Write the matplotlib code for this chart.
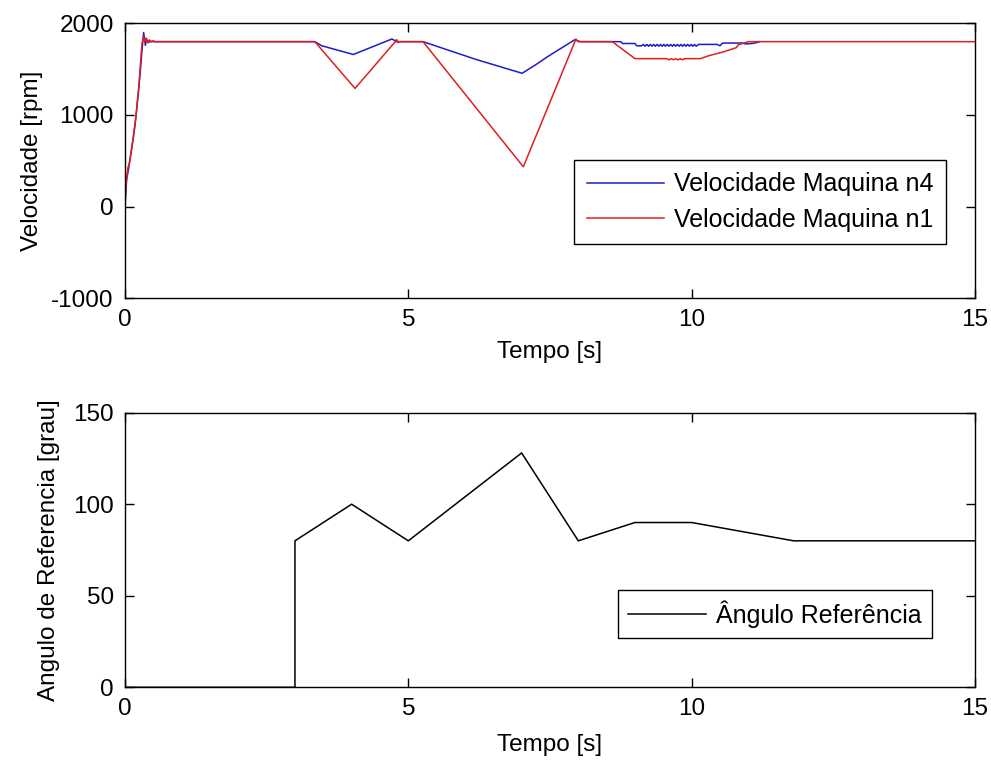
import matplotlib
matplotlib.use("Agg")
import matplotlib.pyplot as plt

plt.rcParams['font.family'] = ['Liberation Sans', 'DejaVu Sans']
plt.rcParams['axes.unicode_minus'] = False

# ---- data: top plot (speed, rpm) ----
t_n1 = [0, 0.02, 0.05, 0.08, 0.12, 0.16, 0.20, 0.24, 0.27, 0.30, 0.33, 0.35, 0.37, 0.40,
        0.43, 0.46, 0.50, 0.54, 0.58,
        3.35, 4.06, 4.77, 4.79, 4.82,
        5.26, 7.03, 7.94, 7.96, 7.99,
        8.60, 9.00, 9.56, 9.60, 9.64, 9.68, 9.72, 9.76, 9.80, 9.84, 9.88, 9.92,
        10.15, 10.32, 10.56, 10.79, 10.82, 11.00, 15.0]
v_n1 = [0, 250, 420, 480, 640, 820, 1020, 1270, 1530, 1780, 1860, 1800, 1840, 1790,
        1820, 1795, 1810, 1797, 1800,
        1800, 1290, 1800, 1822, 1800,
        1800, 435, 1800, 1829, 1800,
        1800, 1615, 1615, 1602, 1615, 1602, 1615, 1602, 1615, 1602, 1615, 1615,
        1615, 1650, 1688, 1735, 1764, 1800, 1800]

t_n4 = [0, 0.03, 0.06, 0.10, 0.14, 0.18, 0.22, 0.26, 0.30, 0.33, 0.36, 0.38, 0.41,
        0.45, 0.50,
        3.35, 3.47, 4.03, 4.71, 4.82, 4.85,
        5.26, 5.38, 6.20, 7.01, 7.27, 7.44, 7.94, 8.03,
        8.60, 8.75, 8.78, 9.00, 9.03, 9.12,
        9.15, 9.18, 9.21, 9.24, 9.27, 9.30, 9.33, 9.36, 9.39, 9.42, 9.45, 9.48,
        9.51, 9.54, 9.57, 9.60, 9.63, 9.66, 9.69, 9.72, 9.75, 9.78, 9.81, 9.84,
        9.87, 9.90, 9.93, 9.96, 9.99, 10.02, 10.05, 10.08, 10.12,
        10.45, 10.50, 10.55, 10.90, 10.95, 11.10, 11.20]
v_n4 = [0, 300, 400, 560, 720, 900, 1150, 1400, 1700, 1900, 1760, 1830, 1790,
        1805, 1800,
        1800, 1756, 1660, 1829, 1793, 1800,
        1800, 1775, 1605, 1455, 1557, 1629, 1822, 1800,
        1800, 1800, 1780, 1780, 1755, 1755,
        1770, 1750, 1770, 1750, 1770, 1750, 1770, 1750, 1770, 1750, 1770, 1750,
        1770, 1750, 1770, 1750, 1770, 1750, 1770, 1750, 1770, 1750, 1770, 1750,
        1770, 1750, 1770, 1750, 1770, 1750, 1770, 1750, 1770,
        1770, 1755, 1785, 1785, 1775, 1782, 1800]

# ---- data: bottom plot (reference angle, degrees) ----
t_ang = [0, 3, 3, 4, 5, 7, 8, 9, 10, 11.8, 15]
v_ang = [0, 0, 80, 100, 80, 128, 80, 90, 90, 80, 80]

labels_top = ['Velocidade Maquina n4', 'Velocidade Maquina n1']
label_bot = 'Ângulo Referência'

FS = 17.5
LFS = 18

fig = plt.figure(figsize=(9.91, 7.6), dpi=100)
ax1 = fig.add_axes([0.1261, 0.6075, 0.8577, 0.3618])
ax2 = fig.add_axes([0.1261, 0.0957, 0.8577, 0.3613])

ax1.plot(t_n4, v_n4, color='#1c1cc8', lw=1.1, label=labels_top[0])
ax1.plot(t_n1, v_n1, color='#e01e1e', lw=1.1, label=labels_top[1])
ax1.set_xlim(0, 15)
ax1.set_ylim(-1000, 2000)
ax1.set_xticks([0, 5, 10, 15])
ax1.set_yticks([-1000, 0, 1000, 2000])
ax1.set_xlabel('Tempo [s]', fontsize=FS)
ax1.set_ylabel('Velocidade [rpm]', fontsize=FS)
leg1 = ax1.legend(loc='upper right', bbox_to_anchor=(0.966, 0.503), borderaxespad=0,
                  fontsize=LFS, handlelength=3.1, handletextpad=0.4, labelspacing=0.45,
                  borderpad=0.5, fancybox=False, framealpha=1, edgecolor='black')
leg1.get_frame().set_linewidth(1.0)

ax2.plot(t_ang, v_ang, color='black', lw=1.1, label=label_bot)
ax2.set_xlim(0, 15)
ax2.set_ylim(0, 150)
ax2.set_xticks([0, 5, 10, 15])
ax2.set_yticks([0, 50, 100, 150])
ax2.set_xlabel('Tempo [s]', fontsize=FS)
ax2.set_ylabel('Angulo de Referencia [grau]', fontsize=FS)
leg2 = ax2.legend(loc='upper right', bbox_to_anchor=(0.949, 0.354), borderaxespad=0,
                  fontsize=LFS, handlelength=3.1, handletextpad=0.4,
                  borderpad=0.4, fancybox=False, framealpha=1, edgecolor='black')
leg2.get_frame().set_linewidth(1.0)

for ax in (ax1, ax2):
    ax.tick_params(direction='in', length=6.5, width=1.0, top=True, right=True,
                   labelsize=FS, pad=8)
    for s in ax.spines.values():
        s.set_linewidth(1.0)

ax1.yaxis.set_label_coords(-0.097, 0.5)
ax2.yaxis.set_label_coords(-0.077, 0.5)
ax1.xaxis.set_label_coords(0.5, -0.155)
ax2.xaxis.set_label_coords(0.5, -0.17)

fig.savefig('out.png', dpi=100)
